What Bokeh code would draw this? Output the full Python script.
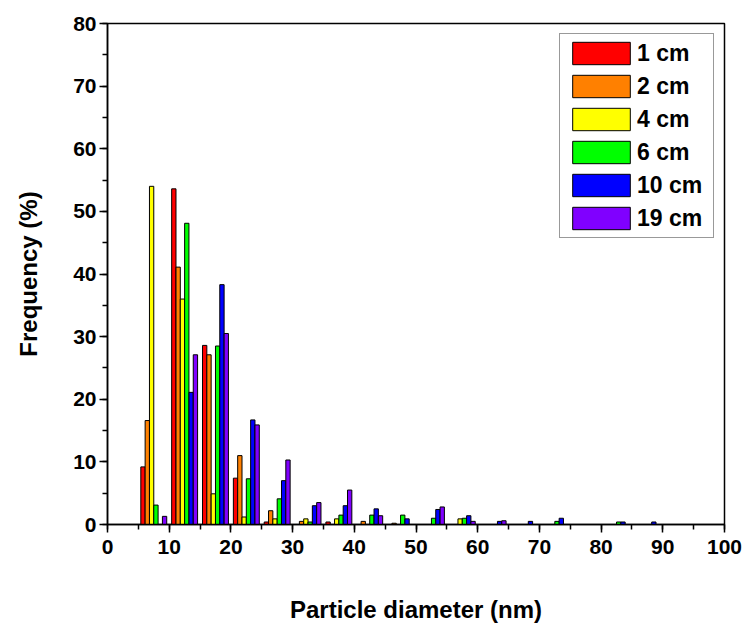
from bokeh.plotting import figure
from bokeh.models import ColumnDataSource, Range1d, SingleIntervalTicker, Legend
from bokeh.transform import dodge
from bokeh.embed import file_html
from bokeh.resources import INLINE

# ---- data ----
bin_centers = [7.5, 12.5, 17.5, 22.5, 27.5, 32.5, 37.5, 42.5, 47.5, 52.5,
               57.5, 62.5, 67.5, 72.5, 77.5, 82.5, 87.5]
series_names = ["1 cm", "2 cm", "4 cm", "6 cm", "10 cm", "19 cm"]
series_colors = ["#FF0000", "#FF8000", "#FFFF00", "#00FF00", "#0000FF", "#8000FF"]
freq_1cm  = [9.2, 53.6, 28.6, 7.4, 0.4, 0.0, 0.4, 0.0, 0.0, 0.0, 0.0, 0.0, 0.0, 0.0, 0.0, 0.0, 0.0]
freq_2cm  = [16.6, 41.1, 27.1, 11.0, 2.2, 0.5, 0.0, 0.5, 0.2, 0.0, 0.0, 0.0, 0.0, 0.0, 0.0, 0.0, 0.0]
freq_4cm  = [54.0, 36.0, 4.9, 1.2, 0.9, 0.9, 0.9, 0.0, 0.0, 0.0, 0.9, 0.0, 0.0, 0.0, 0.0, 0.0, 0.0]
freq_6cm  = [3.1, 48.1, 28.5, 7.3, 4.1, 0.4, 1.5, 1.5, 1.5, 1.0, 1.0, 0.0, 0.0, 0.5, 0.0, 0.4, 0.0]
freq_10cm = [0.0, 21.1, 38.3, 16.7, 7.0, 3.0, 3.0, 2.5, 0.9, 2.4, 1.4, 0.5, 0.5, 1.0, 0.0, 0.4, 0.4]
freq_19cm = [1.3, 27.1, 30.5, 15.9, 10.3, 3.5, 5.5, 1.4, 0.0, 2.8, 0.5, 0.6, 0.0, 0.0, 0.0, 0.0, 0.0]
series_values = [freq_1cm, freq_2cm, freq_4cm, freq_6cm, freq_10cm, freq_19cm]
x_ticks_interval = 10
y_ticks_interval = 10

FONT = "Liberation Sans"

data = {"bin": bin_centers}
for i, vals in enumerate(series_values):
    data["s%d" % i] = vals
source = ColumnDataSource(data)

p = figure(width=745, height=620, output_backend="svg", toolbar_location=None,
           x_range=Range1d(0, 100), y_range=Range1d(0, 80),
           frame_width=617, frame_height=501,
           min_border_left=107, min_border_right=21, min_border_top=23, min_border_bottom=96)
p.background_fill_color = "white"
p.border_fill_color = "white"
p.outline_line_color = "black"
p.outline_line_width = 1.5
p.xgrid.visible = False
p.ygrid.visible = False

bar_w = 0.7
renderers = []
for i, name in enumerate(series_names):
    off = (i - 2.5) * bar_w
    r = p.vbar(x=dodge("bin", off), top="s%d" % i, width=bar_w, bottom=0,
               source=source, fill_color=series_colors[i],
               line_color="black", line_width=1)
    renderers.append((name, [r]))

legend = Legend(items=renderers, location="top_right", margin=10, padding=5,
                spacing=5, glyph_width=72, glyph_height=28, label_height=28,
                label_width=71, label_standoff=0,
                label_text_font=FONT, label_text_font_size="23px",
                label_text_font_style="bold", label_text_color="black",
                border_line_color="#333333", border_line_width=1,
                background_fill_color="white", background_fill_alpha=1)
p.add_layout(legend)

# bottom axis
xa = p.xaxis[0]
xa.ticker = SingleIntervalTicker(interval=x_ticks_interval, num_minor_ticks=2)
xa.axis_label = "Particle diameter (nm)"
# left axis
ya = p.yaxis[0]
ya.ticker = SingleIntervalTicker(interval=y_ticks_interval, num_minor_ticks=2)
ya.axis_label = "Frequency (%)"

for ax in (xa, ya):
    ax.axis_line_width = 1.5
    ax.axis_line_color = "black"
    ax.major_tick_line_width = 1.5
    ax.minor_tick_line_width = 1.5
    ax.major_tick_in = 0
    ax.major_tick_out = 8
    ax.minor_tick_in = 0
    ax.minor_tick_out = 5
    ax.major_label_text_font = FONT
    ax.major_label_text_font_size = "21px"
    ax.major_label_text_font_style = "bold"
    ax.major_label_text_color = "black"
    ax.axis_label_text_font = FONT
    ax.axis_label_text_font_size = "24px"
    ax.axis_label_text_font_style = "bold"
    ax.axis_label_text_color = "black"

xa.major_label_standoff = 7
xa.axis_label_standoff = 39
ya.major_label_standoff = 3
ya.axis_label_standoff = 28

open("out.html", "w").write(file_html(p, INLINE))
